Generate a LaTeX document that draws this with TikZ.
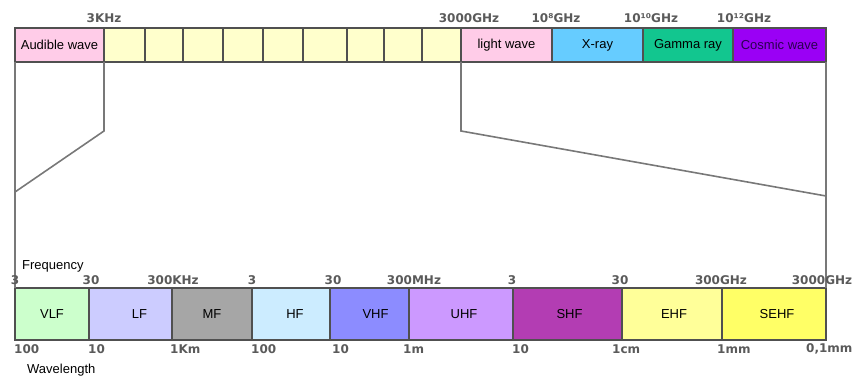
\documentclass[tikz,border=0pt]{standalone}
\usepackage{fontspec}
\setmainfont{Liberation Sans}
\newfontfamily\lblfont{DejaVu Sans}
\definecolor{cellline}{HTML}{505050}
\definecolor{framegray}{HTML}{787878}
\definecolor{labelgray}{HTML}{5A5A5A}
\definecolor{cpink}{HTML}{FFCCE8}
\definecolor{cyellow}{HTML}{FFFFCC}
\definecolor{cxray}{HTML}{66CCFF}
\definecolor{cgamma}{HTML}{12C68F}
\definecolor{ccosmic}{HTML}{9A00F5}
\definecolor{ccosmictext}{HTML}{2A0050}
\definecolor{cvlf}{HTML}{CCFFCC}
\definecolor{clf}{HTML}{CCCCFF}
\definecolor{cmf}{HTML}{A6A6A6}
\definecolor{chf}{HTML}{CCECFF}
\definecolor{cvhf}{HTML}{8C8CFF}
\definecolor{cuhf}{HTML}{CC99FF}
\definecolor{cshf}{HTML}{B33DB3}
\definecolor{cehf}{HTML}{FFFF99}
\definecolor{csehf}{HTML}{FFFF66}
\tikzset{
  cell/.style={draw=cellline, line width=1.2pt, outer sep=0pt, inner sep=0pt,
    anchor=north west, font=\fontsize{13}{15}\selectfont},
  topcell/.style={cell, minimum height=34pt},
  botcell/.style={cell, minimum height=52pt},
  glabel/.style={font=\lblfont\bfseries\fontsize{12}{14}\selectfont, text=labelgray, inner sep=0pt},
  plainlabel/.style={font=\fontsize{13}{15}\selectfont, inner sep=0pt, anchor=west},
  frameline/.style={draw=framegray, line width=1.6pt, line join=miter}
}
\begin{document}
\begin{tikzpicture}[x=1pt,y=-1pt]
\useasboundingbox (0,0) rectangle (860,390);
% kink coordinates
\coordinate (kl) at (104,131);
\coordinate (kle) at (15,192);
\coordinate (kr) at (461,131);
\coordinate (kre) at (826,196);
% top bar
\node[topcell, fill=cpink, minimum width=89pt] (aud) at (15,28) {Audible wave};
\node[topcell, fill=cyellow, minimum width=41pt] (y1) at (104,28) {};
\node[topcell, fill=cyellow, minimum width=38pt] (y2) at (145,28) {};
\node[topcell, fill=cyellow, minimum width=40pt] (y3) at (183,28) {};
\node[topcell, fill=cyellow, minimum width=40pt] (y4) at (223,28) {};
\node[topcell, fill=cyellow, minimum width=40pt] (y5) at (263,28) {};
\node[topcell, fill=cyellow, minimum width=44pt] (y6) at (303,28) {};
\node[topcell, fill=cyellow, minimum width=37pt] (y7) at (347,28) {};
\node[topcell, fill=cyellow, minimum width=38pt] (y8) at (384,28) {};
\node[topcell, fill=cyellow, minimum width=39pt] (y9) at (422,28) {};
\node[topcell, fill=cpink, minimum width=91pt] (light) at (461,28) {light wave};
\node[topcell, fill=cxray, minimum width=91pt] (xray) at (552,28) {X-ray};
\node[topcell, fill=cgamma, minimum width=90pt] (gamma) at (643,28) {Gamma ray};
\node[topcell, fill=ccosmic, minimum width=93pt, text=ccosmictext] (cosmic) at (733,28) {Cosmic wave};
% bottom bar
\node[botcell, fill=cvlf, minimum width=74pt] (vlf) at (15,288) {VLF};
\node[botcell, fill=clf, minimum width=83pt] (lf) at (89,288) {\hspace{18pt}LF};
\node[botcell, fill=cmf, minimum width=80pt] (mf) at (172,288) {MF};
\node[botcell, fill=chf, minimum width=78pt] (hf) at (252,288) {\hspace{8pt}HF};
\node[botcell, fill=cvhf, minimum width=79pt] (vhf) at (330,288) {\hspace{12pt}VHF};
\node[botcell, fill=cuhf, minimum width=104pt] (uhf) at (409,288) {\hspace{6pt}UHF};
\node[botcell, fill=cshf, minimum width=109pt] (shf) at (513,288) {\hspace{4pt}SHF};
\node[botcell, fill=cehf, minimum width=100pt] (ehf) at (622,288) {\hspace{4pt}EHF};
\node[botcell, fill=csehf, minimum width=104pt] (sehf) at (722,288) {\hspace{6pt}SEHF};
% frame lines
\draw[frameline] (aud.south west) -- (vlf.north west);
\draw[frameline] (aud.south east) -- (kl) -- (kle);
\draw[frameline] (light.south west) -- (kr) -- (kre);
\draw[frameline] (cosmic.south east) -- (sehf.north east);
% top frequency labels
\node[glabel] (t1) at (104,18) {3KHz};
\node[glabel] (t2) at (469,18) {3000GHz};
\node[glabel] (t3) at (556,18) {10⁸GHz};
\node[glabel] (t4) at (651,18) {10¹⁰GHz};
\node[glabel] (t5) at (744,18) {10¹²GHz};
% bottom frequency labels
\node[plainlabel] (freq) at (22,266) {Frequency};
\node[glabel] (f1) at (15,280) {3};
\node[glabel] (f2) at (91,280) {30};
\node[glabel] (f3) at (173,280) {300KHz};
\node[glabel] (f4) at (252,280) {3};
\node[glabel] (f5) at (333,280) {30};
\node[glabel] (f6) at (414,280) {300MHz};
\node[glabel] (f7) at (512,280) {3};
\node[glabel] (f8) at (620,280) {30};
\node[glabel] (f9) at (721,280) {300GHz};
\node[glabel] (f10) at (822,280) {3000GHz};
% wavelength labels
\node[glabel, anchor=west] (w1) at (14,349) {100};
\node[glabel, anchor=west] (w2) at (88,349) {10};
\node[glabel, anchor=west] (w3) at (170,349) {1Km};
\node[glabel, anchor=west] (w4) at (251,349) {100};
\node[glabel, anchor=west] (w5) at (332,349) {10};
\node[glabel, anchor=west] (w6) at (403,349) {1m};
\node[glabel, anchor=west] (w7) at (512,349) {10};
\node[glabel, anchor=west] (w8) at (612,349) {1cm};
\node[glabel, anchor=west] (w9) at (717,349) {1mm};
\node[glabel, anchor=west] (w10) at (806,349) {0,1mm};
\node[plainlabel] (wave) at (27,370) {Wavelength};
\end{tikzpicture}
\end{document}
